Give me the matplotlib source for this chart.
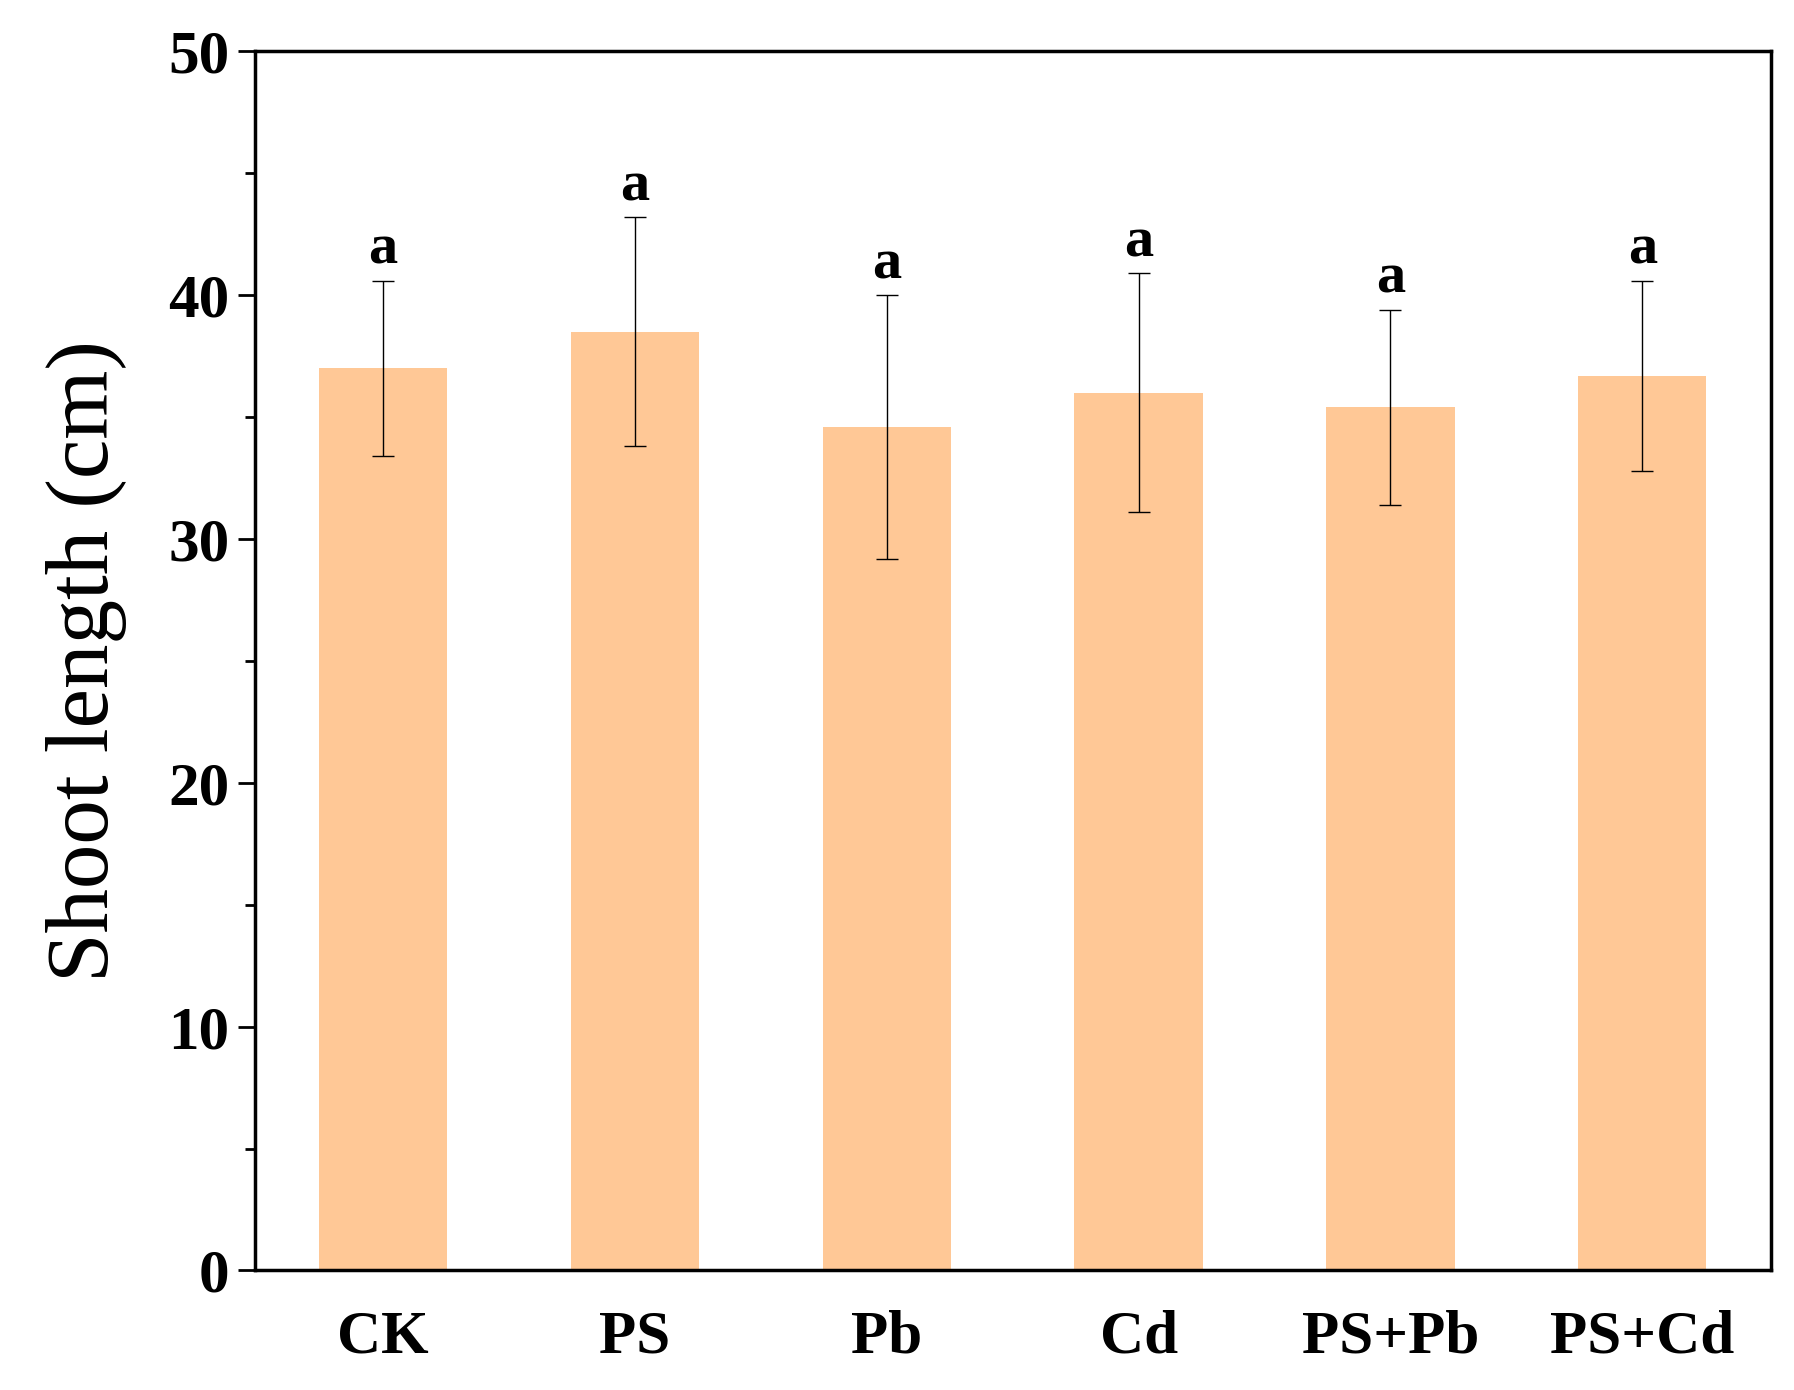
import matplotlib
matplotlib.use("Agg")
import matplotlib.pyplot as plt
from matplotlib.ticker import MultipleLocator

categories = ["CK", "PS", "Pb", "Cd", "PS+Pb", "PS+Cd"]
values = [37.0, 38.5, 34.6, 36.0, 35.4, 36.7]
errors = [3.6, 4.7, 5.4, 4.9, 4.0, 3.9]
letters = ["a", "a", "a", "a", "a", "a"]

plt.rcParams['font.family'] = ['Liberation Serif', 'DejaVu Serif']
fig = plt.figure(figsize=(17.94, 13.9), dpi=100)
ax = fig.add_axes([0.142, 0.086, 0.845, 0.877])
x = range(len(categories))
ax.bar(x, values, width=0.51, color="#FFC896", yerr=errors,
       error_kw=dict(ecolor="black", elinewidth=1.0, capsize=8, capthick=1.0))
for i, (v, e, l) in enumerate(zip(values, errors, letters)):
    ax.text(i, v + e + 0.2, l, ha="center", va="bottom", fontsize=42, fontweight="bold")
ax.set_xlim(-0.51, 5.51)
ax.set_ylim(0, 50)
ax.yaxis.set_major_locator(MultipleLocator(10))
ax.yaxis.set_minor_locator(MultipleLocator(5))
ax.set_xticks(list(x))
ax.set_xticklabels(categories)
ax.tick_params(axis="x", length=0, pad=28, labelsize=44)
ax.tick_params(axis="y", which="major", direction="out", length=12, width=2, labelsize=44, pad=6)
ax.tick_params(axis="y", which="minor", direction="out", length=7, width=2)
for lab in ax.get_xticklabels() + ax.get_yticklabels():
    lab.set_fontweight("bold")
for s in ax.spines.values():
    s.set_linewidth(2.5)
ax.set_ylabel("Shoot length (cm)", fontsize=64, labelpad=30)
fig.savefig("out.png", dpi=100)
